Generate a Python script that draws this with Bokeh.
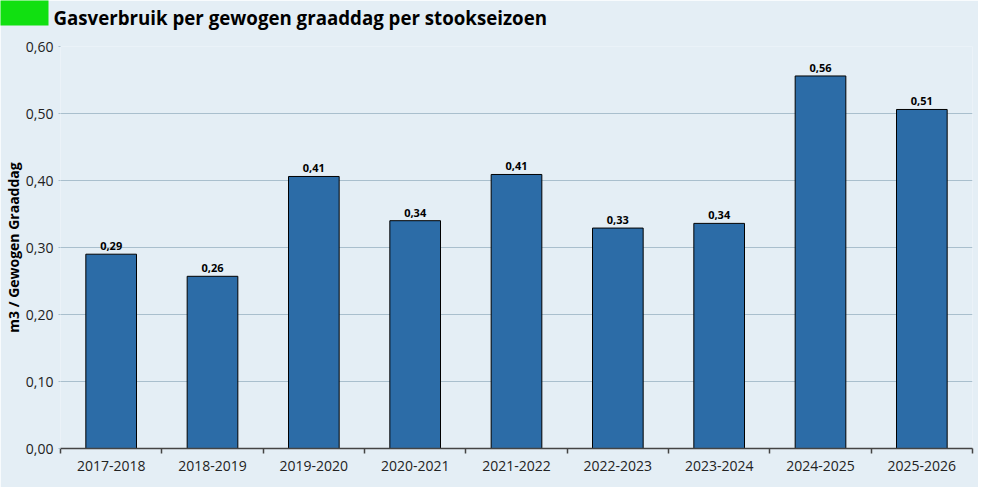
from bokeh.plotting import figure
from bokeh.models import ColumnDataSource, FixedTicker, CustomJSTickFormatter, Range1d
from bokeh.embed import file_html
from bokeh.resources import INLINE
from bokeh.core.properties import value

seasons = ["2017-2018", "2018-2019", "2019-2020", "2020-2021", "2021-2022",
           "2022-2023", "2023-2024", "2024-2025", "2025-2026"]
values = [0.290, 0.257, 0.406, 0.340, 0.409, 0.329, 0.336, 0.556, 0.506]
title_text = "Gasverbruik per gewogen graaddag per stookseizoen"
y_title = "m3 / Gewogen Graaddag"

BG = "#e4eef5"
FONT = "Open Sans"
W, H = 978, 487
FL, FR, FT, FB = 60, 972, 46, 448   # frame edges in canvas pixels
YMAX = 0.6

n = len(seasons)
centers = [i + 0.5 for i in range(n)]
labels = [f"{v:.2f}".replace(".", ",") for v in values]
src = ColumnDataSource(dict(x=centers, top=values, lab=labels))

p = figure(width=W, height=H, x_range=Range1d(0, n), y_range=Range1d(0, YMAX),
           output_backend="svg", toolbar_location=None,
           min_border_left=FL, min_border_right=W - FR, min_border_top=FT, min_border_bottom=H - FB)
p.background_fill_color = BG
p.border_fill_color = BG
p.outline_line_color = None

p.vbar(x="x", top="top", width=0.5, bottom=0, source=src,
       fill_color="#2c6ca7", line_color="#000000", line_width=1)
p.text(x="x", y="top", text="lab", source=src, text_font=value(FONT), text_font_style="bold",
       text_font_size="11px", text_color="#000000", text_align="center",
       text_baseline="bottom", y_offset=-4)

# header (drawn at overlay level so it is not clipped to the frame)
def px_x(px):
    return (px - FL) * n / (FR - FL)

def px_y(py):
    return (FB - py) * YMAX / (FB - FT)

marker = p.quad(left=[px_x(0)], right=[px_x(48)], top=[px_y(0)], bottom=[px_y(25)],
                fill_color="#11e011", line_color=None)
marker.level = "overlay"
ttl = p.text(x=[px_x(53)], y=[px_y(16.5)], text=[title_text], text_font=value(FONT),
             text_font_style="bold", text_font_size="18.7px", text_color="#000000",
             text_align="left", text_baseline="alphabetic")
ttl.level = "overlay"

# x axis
p.xaxis.ticker = FixedTicker(ticks=centers, minor_ticks=list(range(n + 1)))
p.xaxis.major_label_overrides = {c: s for c, s in zip(centers, seasons)}
p.xaxis.major_tick_out = 0
p.xaxis.major_tick_in = 0
p.xaxis.minor_tick_out = 5
p.xaxis.minor_tick_in = 0
p.xaxis.minor_tick_line_color = "#444444"
p.xaxis.minor_tick_line_width = 1.5
p.xaxis.axis_line_color = "#444444"
p.xaxis.axis_line_width = 1.5
p.xaxis.major_label_standoff = 7
p.xaxis.major_label_text_font = FONT
p.xaxis.major_label_text_font_size = "14px"
p.xaxis.major_label_text_color = "#222222"
p.xgrid.visible = False

# y axis
p.yaxis.ticker = FixedTicker(ticks=[0, 0.1, 0.2, 0.3, 0.4, 0.5, 0.6])
p.yaxis.formatter = CustomJSTickFormatter(code="return tick.toFixed(2).replace('.', ',');")
p.yaxis.axis_line_color = None
p.yaxis.major_tick_out = 2
p.yaxis.major_tick_in = 0
p.yaxis.major_tick_line_color = "#a9bfcd"
p.yaxis.minor_tick_line_color = None
p.yaxis.major_label_standoff = 5
p.yaxis.major_label_text_font = FONT
p.yaxis.major_label_text_font_size = "14px"
p.yaxis.major_label_text_color = "#222222"
p.yaxis.axis_label = y_title
p.yaxis.axis_label_text_font = FONT
p.yaxis.axis_label_text_font_style = "bold"
p.yaxis.axis_label_text_font_size = "14px"
p.yaxis.axis_label_text_color = "#000000"
p.yaxis.axis_label_standoff = 0
p.ygrid.grid_line_color = "#a9bfcd"
p.ygrid.grid_line_width = 1

open("out.html", "w").write(file_html(p, INLINE))
